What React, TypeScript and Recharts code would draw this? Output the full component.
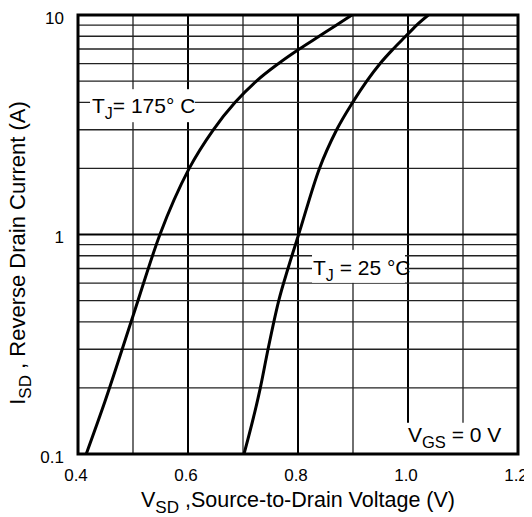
import React from "react";
import {
  LineChart,
  Line,
  XAxis,
  YAxis,
  ReferenceLine,
  ReferenceArea,
  ReferenceDot,
} from "recharts";

// ---- data ----
const vsd175 = [0.415, 0.4485, 0.5, 0.549, 0.6022, 0.646, 0.6858, 0.7244, 0.7642, 0.8024, 0.8384, 0.8702, 0.898];
const isd175 = [0.1, 0.172, 0.425, 1, 2, 3, 4, 5, 6, 7, 8, 9, 10];

const vsd25 = [0.7018, 0.7315, 0.7455, 0.765, 0.7818, 0.8012, 0.839, 0.8703, 0.8994, 0.925, 0.949, 0.973, 0.9958, 1.0158, 1.037];
const isd25 = [0.1, 0.2, 0.3, 0.5, 0.7, 1, 2, 3, 4, 5, 6, 7, 8, 9, 10];

const xTicks = [0.4, 0.6, 0.8, 1.0, 1.2];
const yTicks = [0.1, 1, 10];
const xGrid = [0.5, 0.6, 0.7, 0.8, 0.9, 1.0, 1.1];
const xGridMajor = [0.6, 0.8, 1.0];
const yGrid = [0.2, 0.3, 0.4, 0.5, 0.6, 0.7, 0.8, 0.9, 1, 2, 3, 4, 5, 6, 7, 8, 9];
const yGridMajor = [1];

const xDomain = [0.4, 1.2];
const yDomain = [0.1, 10];

const label175 = { v: 0.4255, i: 3.57 };
const label25 = { v: 0.8273, i: 0.655 };
const labelVgs = { v: 1.0, i: 0.1137 };

const series175 = vsd175.map((v, k) => ({ v, i: isd175[k] }));
const series25 = vsd25.map((v, k) => ({ v, i: isd25[k] }));

const FONT = "'Liberation Sans', Arial, Helvetica, sans-serif";

const XTick = (props: any) => {
  const { x, y, payload } = props;
  return (
    <text x={x - 2} y={y + 27} textAnchor="middle" fontFamily={FONT} fontSize={17} fill="#000">
      {Number(payload.value).toFixed(1)}
    </text>
  );
};

const YTick = (props: any) => {
  const { x, y, payload } = props;
  return (
    <text x={x - 14} y={y + 8.5} textAnchor="end" fontFamily={FONT} fontSize={17} fill="#000">
      {String(payload.value)}
    </text>
  );
};

const makeBox = (
  rx: number,
  ry: number,
  rw: number,
  rh: number,
  content: React.ReactNode
) => (props: any) => {
  const { cx, cy } = props;
  return (
    <g>
      <rect x={cx + rx} y={cy + ry} width={rw} height={rh} fill="#fff" stroke="none" />
      <text x={cx} y={cy} fontFamily={FONT} fontSize={21} fill="#000">
        {content}
      </text>
    </g>
  );
};

const box175 = makeBox(-2, -24, 105, 33, (
  <>
    <tspan>T</tspan>
    <tspan dy={6} fontSize={16}>J</tspan>
    <tspan dy={-6}>= 175° C</tspan>
  </>
));

const box25 = makeBox(-1, -25, 93, 33, (
  <>
    <tspan>T</tspan>
    <tspan dy={6} fontSize={16}>J</tspan>
    <tspan dy={-6}> = 25 °C</tspan>
  </>
));

const boxVgs = makeBox(-6, -19, 116, 31, (
  <>
    <tspan>V</tspan>
    <tspan dy={6} fontSize={16.5}>GS</tspan>
    <tspan dy={-6}> = 0 V</tspan>
  </>
));

const W = 524;
const H = 509;

export default function App() {
  return (
    <div style={{ position: "relative", width: W, height: H }}>
      <LineChart
        width={W}
        height={H}
        margin={{ top: 7, right: 14, left: 0, bottom: 0 }}
      >
        <XAxis
          type="number"
          dataKey="v"
          domain={xDomain}
          ticks={xTicks}
          allowDataOverflow
          axisLine={false}
          tickLine={false}
          tickSize={0}
          tickMargin={0}
          height={63}
          tick={<XTick />}
          interval={0}
        />
        <YAxis
          type="number"
          dataKey="i"
          scale="log"
          domain={yDomain}
          ticks={yTicks}
          allowDataOverflow
          axisLine={false}
          tickLine={false}
          tickSize={0}
          tickMargin={0}
          width={70}
          tick={<YTick />}
          interval={0}
        />
        {xGrid.map((x) => (
          <ReferenceLine
            key={"xg" + x}
            x={x}
            stroke={xGridMajor.includes(x) ? "#000" : "#222"}
            strokeWidth={xGridMajor.includes(x) ? 2 : 1.3}
            zIndex={100}
          />
        ))}
        {yGrid.map((y) => (
          <ReferenceLine
            key={"yg" + y}
            y={y}
            stroke={yGridMajor.includes(y) ? "#000" : "#222"}
            strokeWidth={yGridMajor.includes(y) ? 2 : 1.3}
            zIndex={100}
          />
        ))}
        <ReferenceDot x={label175.v} y={label175.i} shape={box175} zIndex={200} />
        <ReferenceDot x={label25.v} y={label25.i} shape={box25} zIndex={200} />
        <ReferenceDot x={labelVgs.v} y={labelVgs.i} shape={boxVgs} zIndex={200} />
        <Line
          data={series175}
          dataKey="i"
          type="monotone"
          stroke="#000"
          strokeWidth={3}
          dot={false}
          isAnimationActive={false}
          zIndex={300}
        />
        <Line
          data={series25}
          dataKey="i"
          type="monotone"
          stroke="#000"
          strokeWidth={3}
          dot={false}
          isAnimationActive={false}
          zIndex={300}
        />
        <ReferenceArea
          x1={xDomain[0]}
          x2={xDomain[1]}
          y1={yDomain[0]}
          y2={yDomain[1]}
          fill="none"
          fillOpacity={0}
          stroke="#000"
          strokeWidth={3}
          zIndex={400}
        />
      </LineChart>
      <svg
        width={W}
        height={H}
        style={{ position: "absolute", left: 0, top: 0, pointerEvents: "none", overflow: "visible" }}
      >
        <text x={290} y={499} textAnchor="middle" fontFamily={FONT} fontSize={21.5} fill="#000">
          <tspan>V</tspan>
          <tspan dy={6} fontSize={17}>SD</tspan>
          <tspan dy={-6}> ,Source-to-Drain Voltage (V)</tspan>
        </text>
        <text
          x={17}
          y={245}
          transform="rotate(-90, 17, 245)"
          textAnchor="middle"
          fontFamily={FONT}
          fontSize={22}
          fill="#000"
        >
          <tspan>I</tspan>
          <tspan dy={6} fontSize={17}>SD</tspan>
          <tspan dy={-6}> , Reverse Drain Current (A)</tspan>
        </text>
      </svg>
    </div>
  );
}
